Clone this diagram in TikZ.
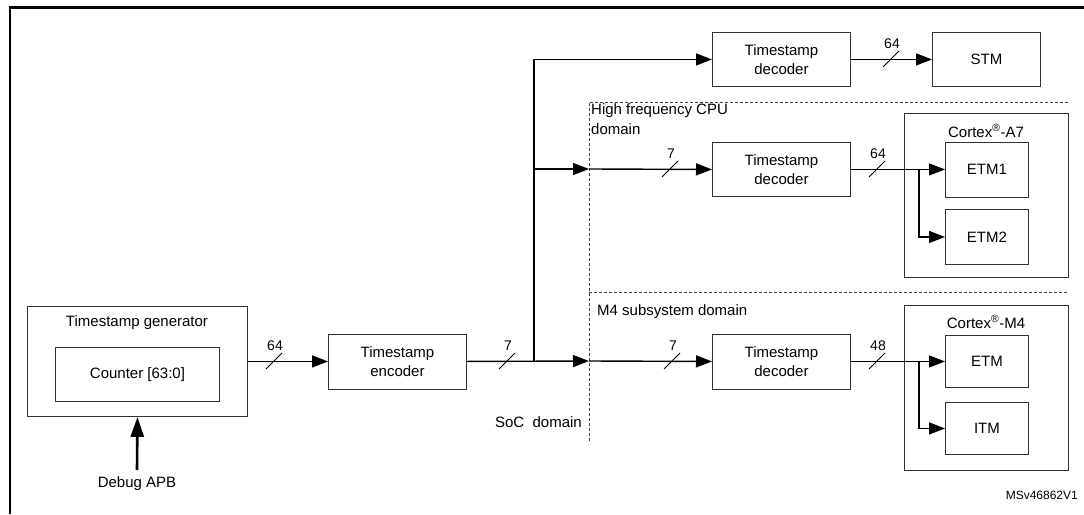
\documentclass[tikz,border=0pt]{standalone}
\usepackage{fontspec}
\setmainfont{Liberation Sans}
\usetikzlibrary{arrows.meta,calc}
\begin{document}
\begin{tikzpicture}[x=1pt,y=-1pt,
  font=\fontsize{15}{19}\selectfont,
  box/.style={draw=black!80, line width=0.9pt, align=center, inner sep=0pt, anchor=north west},
  conn/.style={line width=1.4pt, -{Triangle[length=16pt,width=12pt]}},
  busmark/.style={line width=0.9pt},
  buslabel/.style={font=\fontsize{14}{16}\selectfont, inner sep=0pt},
  dom/.style={dash pattern=on 3pt off 2pt, line width=0.8pt, black!75},
  lbl/.style={inner sep=0pt}
]
\useasboundingbox (0,0) rectangle (1084,514);
% outer frame
\draw[line width=2.2pt] (10,514) -- (10,7.5) -- (1084,7.5);

% boxes
\node[box, minimum width=220pt, minimum height=110pt] (gen) at (27,306) {};
\node[lbl] (gent) at (137,323) {Timestamp generator};
\node[box, minimum width=164pt, minimum height=54pt] (cnt) at (55,347) {Counter [63:0]};
\node[box, minimum width=138pt, minimum height=55pt] (enc) at (328,333.5) {Timestamp\\encoder};
\node[box, minimum width=138pt, minimum height=54pt] (tdec) at (712,32) {Timestamp\\decoder};
\node[box, minimum width=108pt, minimum height=54pt] (stm) at (932,32) {STM};
\node[box, minimum width=138pt, minimum height=54pt] (mdec) at (712,142) {Timestamp\\decoder};
\node[box, minimum width=138pt, minimum height=55pt] (bdec) at (712,333.5) {Timestamp\\decoder};

\node[box, minimum width=164pt, minimum height=164pt] (a7) at (904,113) {};
\node[lbl] (a7t) at (986,131) {Cortex\textsuperscript{®}-A7};
\node[box, minimum width=83pt, minimum height=55pt] (etm1) at (945,141.5) {ETM1};
\node[box, minimum width=83pt, minimum height=55pt] (etm2) at (945,209) {ETM2};

\node[box, minimum width=164pt, minimum height=165pt] (m4) at (904,305) {};
\node[lbl] (m4t) at (986,322) {Cortex\textsuperscript{®}-M4};
\node[box, minimum width=83pt, minimum height=52pt] (etm) at (945,335) {ETM};
\node[box, minimum width=83pt, minimum height=52pt] (itm) at (945,402) {ITM};

% domains
\draw[dom] (1068,102) -- (589,102) -- (589,442);
\draw[dom] (589,292) -- (1068,292);
\node[lbl, anchor=north west, align=left, font=\fontsize{15}{20}\selectfont] (hf) at (591,103) {High frequency CPU\\domain};
\node[lbl, anchor=west] (m4d) at (597,312) {M4 subsystem domain};
\node[lbl, anchor=east] (soc) at (582,422) {SoC\ \ domain};
\node[lbl, anchor=east, font=\fontsize{12}{14}\selectfont] (ref) at (1078,495) {MSv46862V1};

% debug APB
\node[lbl] (apb) at (137,484) {Debug APB};
\draw[line width=2.6pt, -{Triangle[length=20pt,width=13pt]}] (137,470) -- (gen.south);

% coordinates
\coordinate (br) at (534,361);
\coordinate (brh) at (534,169);
\coordinate (bm) at (589,361);
\coordinate (bh) at (589,169);
\coordinate (ja) at (919,169);
\coordinate (jm) at (919,361);

% connectors
\draw[conn] (gen.east) -- (enc.west);
\draw[conn] (enc.east) -- (bm);
\draw[conn] (br) |- (tdec.west);
\draw[conn] (brh) -- (bh);
\draw[conn] (bh) -- (mdec.west);
\draw[conn] (bm) -- (bdec.west);
\draw[conn] (tdec.east) -- (stm.west);
\draw[conn] (mdec.east) -- (etm1.west);
\draw[conn] (ja) |- (etm2.west);
\draw[conn] (bdec.east) -- (etm.west);
\draw[conn] (jm) |- (itm.west);

% bus markers
\foreach \x/\y/\t [count=\i] in {274/361/64, 507/361/7, 672/361/7, 670/169/7, 891/59/64, 877/169/64, 877/361/48}{
  \coordinate (s\i) at (\x,\y);
  \draw[busmark] (s\i) ++(-8,8) -- ++(16,-16);
  \node[buslabel] (sl\i) at ($(s\i)+(1,-15)$) {\t};
}
\end{tikzpicture}
\end{document}
